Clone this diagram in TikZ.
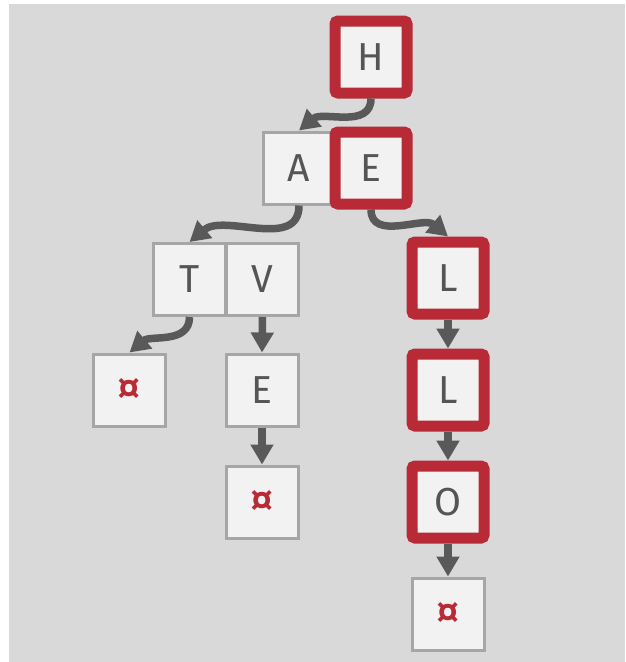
\documentclass[tikz,border=0pt]{standalone}
\usepackage{fontspec}
\setmainfont{Fira Sans}
\usetikzlibrary{arrows.meta}
\definecolor{bg}{HTML}{D9D9D9}
\definecolor{cellfill}{HTML}{F2F2F2}
\definecolor{cellline}{HTML}{A6A6A6}
\definecolor{hot}{HTML}{B82A36}
\definecolor{arrowc}{HTML}{595959}
\definecolor{txt}{HTML}{555555}
\tikzset{
  cell/.style={draw=cellline, fill=cellfill, line width=3pt, minimum size=72pt,
    inner sep=0pt, text=txt, font=\fontsize{39}{39}\selectfont},
  hotcell/.style={cell, draw=hot, line width=11pt, rounded corners=3pt},
  endcell/.style={cell, text=hot, font=\fontsize{38}{38}\bfseries\selectfont},
  link/.style={draw=arrowc, line width=7.5pt, -{Triangle[width=22pt,length=20pt]}},
}
\begin{document}
\begin{tikzpicture}[x=1pt,y=-1pt]
\useasboundingbox (0,0) rectangle (625,662);
\fill[bg] (9,4) rectangle (625,662);
% nodes
\node[hotcell] (H) at (371,57) {H};
\node[cell] (A) at (299,168) {A};
\node[hotcell] (E1) at (371,168) {E};
\node[cell] (T) at (189.5,279.5) {T};
\node[cell] (V) at (262.5,279.5) {V};
\node[endcell] (X1) at (129.5,390) {¤};
\node[cell] (E2) at (262,390) {E};
\node[endcell] (X2) at (262,502) {¤};
\node[hotcell] (L1) at (448,278) {L};
\node[hotcell] (L2) at (448,390) {L};
\node[hotcell] (O) at (448,502) {O};
\node[endcell] (X3) at (448,614) {¤};
% connectors
\draw[link] (H.south) to[out=-90,in=40] (A.north);
\draw[link] (A.south) to[out=-90,in=40] (T.north);
\draw[link] (E1.south) to[out=-90,in=140] (L1.north);
\draw[link] (T.south) to[out=-90,in=40] (X1.north);
\draw[link] (V.south) -- (E2.north);
\draw[link] (E2.south) -- (X2.north);
\draw[link] (L1.south) -- (L2.north);
\draw[link] (L2.south) -- (O.north);
\draw[link] (O.south) -- (X3.north);
\end{tikzpicture}
\end{document}
